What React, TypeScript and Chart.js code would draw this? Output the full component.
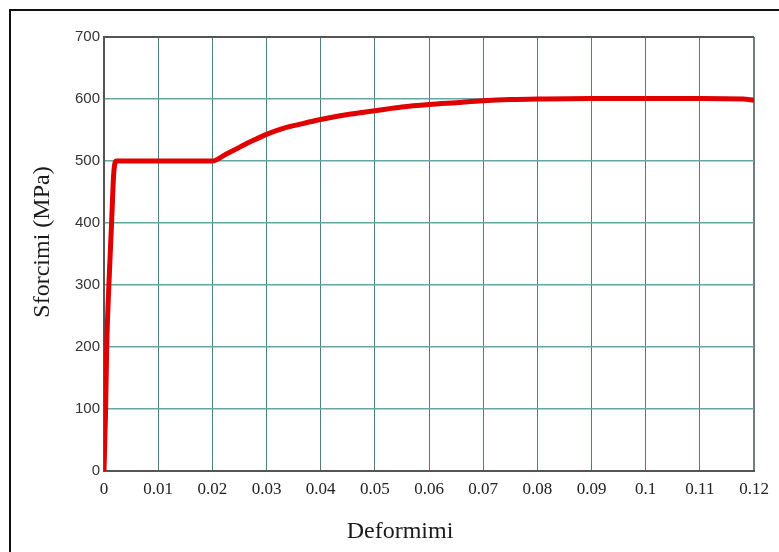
import React, { useEffect, useRef } from "react";
import { Chart, registerables } from "chart.js";

Chart.register(...registerables);

const strain = [0, 0.0003, 0.0005, 0.0009, 0.0014, 0.0018, 0.0023, 0.02, 0.0225, 0.025, 0.0275, 0.03, 0.0325, 0.035, 0.0375, 0.04, 0.045, 0.05, 0.055, 0.06, 0.065, 0.07, 0.075, 0.08, 0.09, 0.1, 0.11, 0.118, 0.12];
const stress = [0, 100, 200, 300, 400, 480, 500, 500, 511, 522, 533, 543, 551, 557, 562, 567, 575, 581, 587, 591, 594, 597, 599, 600, 601, 601, 601, 600, 598];
const xTitle = "Deformimi";
const yTitle = "Sforcimi (MPa)";
const xMin = 0, xMax = 0.12, xStep = 0.01;
const yMin = 0, yMax = 700, yStep = 100;

const titlePlugin = {
  id: "axisTitles",
  afterDraw(chart: any) {
    const ctx = chart.ctx;
    ctx.save();
    ctx.fillStyle = "#1a1a1a";
    ctx.font = '24px "Liberation Serif", serif';
    ctx.textAlign = "center";
    ctx.textBaseline = "alphabetic";
    ctx.fillText(xTitle, 400, 538);
    ctx.translate(43, 242);
    ctx.rotate(-Math.PI / 2);
    ctx.textBaseline = "middle";
    ctx.fillText(yTitle, 0, 0);
    ctx.restore();
  },
};

export default function App() {
  const ref = useRef<HTMLCanvasElement>(null);
  useEffect(() => {
    if (!ref.current) return;
    const data = strain.map((s, i) => ({ x: s, y: stress[i] }));
    const chart = new Chart(ref.current, {
      type: "line",
      data: {
        datasets: [
          {
            data,
            borderColor: "#e00000",
            backgroundColor: "#e00000",
            borderWidth: 5,
            pointRadius: 0,
            cubicInterpolationMode: "monotone",
            fill: false,
          },
        ],
      },
      options: {
        animation: false,
        responsive: false,
        maintainAspectRatio: false,
        layout: { padding: { left: 0, top: 37, right: 25, bottom: 0 } },
        plugins: { legend: { display: false }, tooltip: { enabled: false } },
        scales: {
          x: {
            type: "linear",
            min: xMin,
            max: xMax,
            afterFit: (s: any) => { s.height = 81; },
            ticks: {
              stepSize: xStep,
              autoSkip: false,
              maxRotation: 0,
              padding: 8,
              color: "#222",
              font: { family: '"Liberation Serif", serif', size: 17 },
              callback: (v: any) => String(Math.round(Number(v) * 100) / 100),
            },
            grid: {
              color: (c: any) => (c.tick && Math.abs(c.tick.value - xMax) < 1e-9 ? "#6f7f80" : "#4e7f82"),
              lineWidth: (c: any) => (c.tick && Math.abs(c.tick.value - xMax) < 1e-9 ? 2 : 1),
              drawTicks: false,
            },
            border: { color: "#555", width: 2 },
          },
          y: {
            min: yMin,
            max: yMax,
            afterFit: (s: any) => { s.width = 104; },
            ticks: {
              stepSize: yStep,
              padding: 4,
              color: "#333",
              font: { family: '"Liberation Sans", sans-serif', size: 15 },
            },
            grid: {
              color: (c: any) => (c.tick && c.tick.value === yMax ? "#555" : "#67a6a6"),
              lineWidth: (c: any) => (c.tick && c.tick.value === yMax ? 2 : 1.5),
              drawTicks: false,
            },
            border: { color: "#555", width: 2 },
          },
        },
      },
      plugins: [titlePlugin],
    });
    return () => chart.destroy();
  }, []);

  return (
    <div style={{ position: "fixed", left: 0, top: 0, width: 779, height: 552, background: "#fff" }}>
      <div
        style={{
          position: "absolute",
          left: 9,
          top: 9,
          right: 0,
          bottom: 0,
          borderLeft: "2px solid #111",
          borderTop: "2px solid #111",
        }}
      />
      <canvas ref={ref} width={779} height={552} style={{ position: "absolute", left: 0, top: 0, display: "block" }} />
    </div>
  );
}
